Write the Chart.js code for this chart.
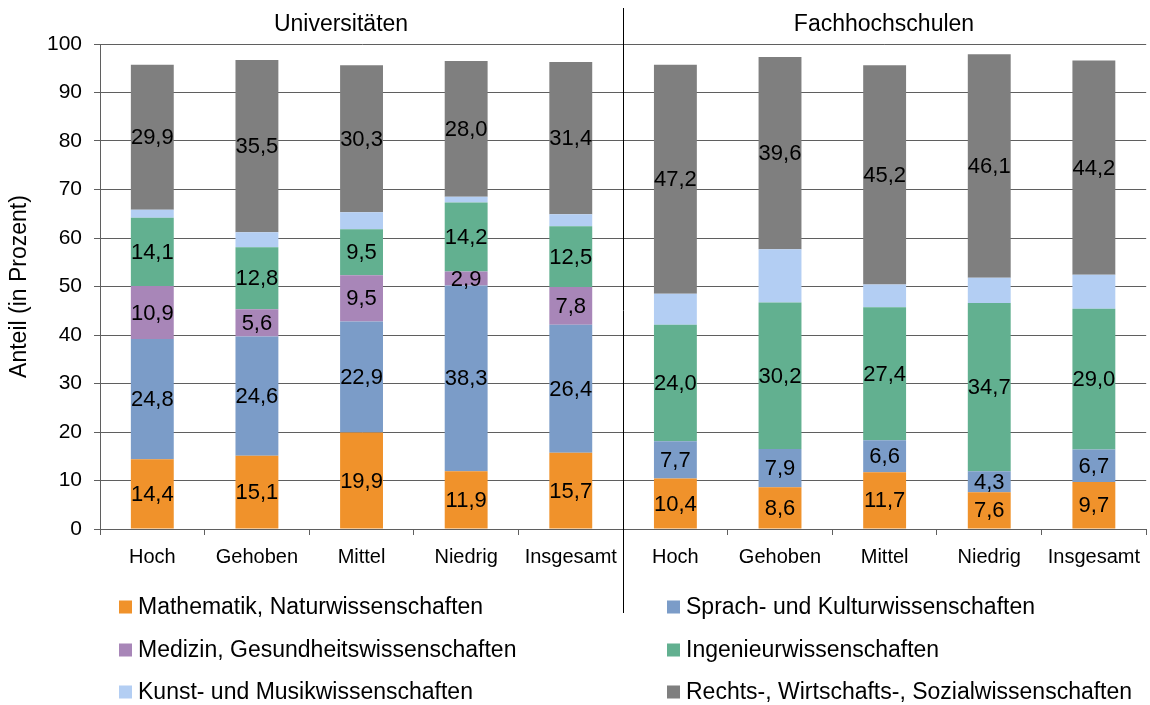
<!DOCTYPE html>
<html lang="de">
<head>
<meta charset="utf-8">
<title>Fächergruppen nach Bildungsherkunft</title>
<script src="https://cdn.jsdelivr.net/npm/chart.js@4.4.1/dist/chart.umd.min.js"></script>
<style>
    html, body { margin: 0; padding: 0; background: #fff; }
    #wrap { position: relative; width: 1150px; height: 705px; }
</style>
</head>
<body>
<div id="wrap"><canvas id="chart"></canvas></div>
<script>
// Data
const categories = ['Hoch', 'Gehoben', 'Mittel', 'Niedrig', 'Insgesamt',
                    'Hoch', 'Gehoben', 'Mittel', 'Niedrig', 'Insgesamt'];
const groupTitles = ['Universitäten', 'Fachhochschulen'];

const mathematik = [14.4, 15.1, 19.9, 11.9, 15.7, 10.4, 8.6, 11.7, 7.6, 9.7];
const sprachKultur = [24.8, 24.6, 22.9, 38.3, 26.4, 7.7, 7.9, 6.6, 4.3, 6.7];
const medizin = [10.9, 5.6, 9.5, 2.9, 7.8, null, null, null, null, null];
const ingenieur = [14.1, 12.8, 9.5, 14.2, 12.5, 24.0, 30.2, 27.4, 34.7, 29.0];
const kunstMusik = [1.6, 3.1, 3.5, 1.2, 2.5, 6.4, 11.0, 4.7, 5.2, 7.0];
const rechtsWiSo = [29.9, 35.5, 30.3, 28.0, 31.4, 47.2, 39.6, 45.2, 46.1, 44.2];

const yTicks = [0, 10, 20, 30, 40, 50, 60, 70, 80, 90, 100];

const FONT = '"Liberation Sans", Arial, sans-serif';
const LINE = '#5f5f5f';

// Values in the middle of each segment
const segmentLabels = {
    id: 'segmentLabels',
    afterDatasetsDraw(chart) {
        const ctx = chart.ctx;
        ctx.save();
        ctx.font = '22px ' + FONT;
        ctx.fillStyle = '#000';
        ctx.textAlign = 'center';
        ctx.textBaseline = 'middle';
        chart.data.datasets.forEach((ds, i) => {
            if (!ds.showValues) return;
            chart.getDatasetMeta(i).data.forEach((bar, j) => {
                const v = ds.data[j];
                if (v == null) return;
                const p = bar.getProps(['x', 'y', 'base'], true);
                ctx.fillText(v.toFixed(1).replace('.', ','), p.x, (p.y + p.base) / 2 + 1);
            });
        });
        ctx.restore();
    }
};

// Divider, group titles and the two-column legend
const extras = {
    id: 'extras',
    afterDraw(chart) {
        const ctx = chart.ctx;
        const x = chart.scales.x;
        const half = (x.getPixelForValue(4) + x.getPixelForValue(5)) / 2;

        ctx.save();
        ctx.strokeStyle = '#000';
        ctx.lineWidth = 1;
        ctx.beginPath();
        ctx.moveTo(Math.round(half) + 0.5, 8);
        ctx.lineTo(Math.round(half) + 0.5, 613);
        ctx.stroke();

        ctx.fillStyle = '#000';
        ctx.font = '23px ' + FONT;
        ctx.textAlign = 'center';
        ctx.textBaseline = 'middle';
        ctx.fillText(groupTitles[0], 341, 25);
        ctx.fillText(groupTitles[1], 884, 25);

        // legend: row-major, two columns
        ctx.font = '23px ' + FONT;
        ctx.textAlign = 'left';
        const cols = [119, 667];
        const rows = [607, 650, 692];
        chart.data.datasets.forEach((ds, i) => {
            const cx = cols[i % 2];
            const cy = rows[Math.floor(i / 2)];
            ctx.fillStyle = ds.backgroundColor;
            ctx.fillRect(cx, cy - 6.5, 13, 13);
            ctx.fillStyle = '#000';
            ctx.fillText(ds.label, cx + 19, cy + 1);
        });
        ctx.restore();
    }
};

const ctx = document.getElementById('chart').getContext('2d');
new Chart(ctx, {
    type: 'bar',
    data: {
        labels: categories,
        datasets: [
            { label: 'Mathematik, Naturwissenschaften', data: mathematik, backgroundColor: '#F0922B', showValues: true },
            { label: 'Sprach- und Kulturwissenschaften', data: sprachKultur, backgroundColor: '#7B9CC8', showValues: true },
            { label: 'Medizin, Gesundheitswissenschaften', data: medizin, backgroundColor: '#A886B8', showValues: true },
            { label: 'Ingenieurwissenschaften', data: ingenieur, backgroundColor: '#62B090', showValues: true },
            { label: 'Kunst- und Musikwissenschaften', data: kunstMusik, backgroundColor: '#B3CEF3', showValues: false },
            { label: 'Rechts-, Wirtschafts-, Sozialwissenschaften', data: rechtsWiSo, backgroundColor: '#7F7F7F', showValues: true }
        ]
    },
    options: {
        responsive: true,
        maintainAspectRatio: false,
        animation: false,
        layout: { padding: { top: 44, right: 0, bottom: 136, left: 0 } },
        datasets: {
            bar: { categoryPercentage: 1, barPercentage: 0.41, borderWidth: 0 }
        },
        plugins: {
            legend: { display: false },
            tooltip: { enabled: false }
        },
        scales: {
            x: {
                stacked: true,
                afterFit: s => { s.height = 40; },
                grid: { display: true, drawOnChartArea: false, drawTicks: true, offset: true, tickLength: 6, color: LINE },
                border: { display: true, color: LINE },
                ticks: { color: '#000', font: { family: FONT, size: 20 }, padding: 10, maxRotation: 0 }
            },
            y: {
                stacked: true,
                min: 0,
                max: 100,
                afterFit: s => { s.width = 100; },
                afterBuildTicks: s => { s.ticks = yTicks.map(v => ({ value: v })); },
                grid: { color: LINE, tickLength: 6 },
                border: { display: true, color: LINE },
                ticks: { color: '#000', font: { family: FONT, size: 21 }, padding: 12 },
                title: {
                    display: true,
                    text: 'Anteil (in Prozent)',
                    color: '#000',
                    font: { family: FONT, size: 23 },
                    padding: { top: 6, bottom: 0 }
                }
            }
        }
    },
    plugins: [segmentLabels, extras]
});
</script>
</body>
</html>
